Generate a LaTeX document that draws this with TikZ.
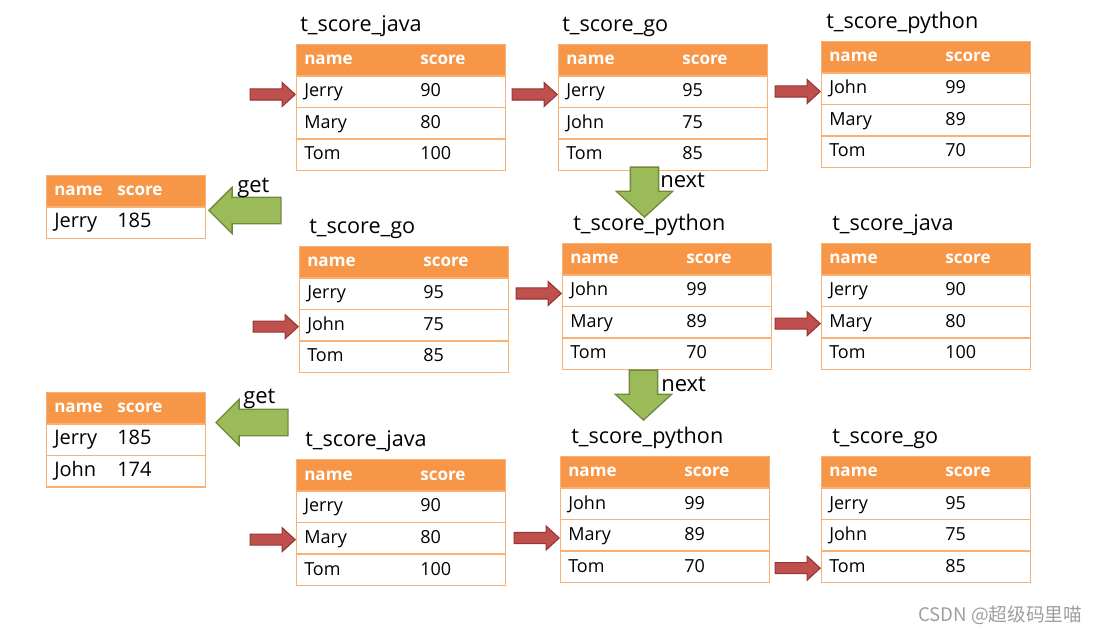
\documentclass[tikz,border=0pt]{standalone}
\usepackage{fontspec}
\setmainfont{Open Sans}
\newfontfamily\cjk{Noto Sans CJK SC}
\usetikzlibrary{positioning,shapes.arrows}

\definecolor{headcol}{HTML}{F79646}
\definecolor{linecol}{HTML}{F9B075}
\definecolor{redfill}{HTML}{C0504D}
\definecolor{reddraw}{HTML}{943634}
\definecolor{greenfill}{HTML}{9BBB59}
\definecolor{greendraw}{HTML}{71893F}

% #1 name, #2 x, #3 top, #4 width, #5 score column, #6 rows
\newcommand{\scoretab}[6]{%
  \node[tabhead, minimum width=#4*0.75pt] (#1-0) at (#2,#3) {};
  \node[headtext] at (#2+8,#3+21) {name};
  \node[headtext] at (#2+#5,#3+21) {score};
  \foreach \nm/\sc [count=\i] in {#6} {
    \node[tabrow, minimum width=#4*0.75pt] (#1-\i) at (#2,#3+31.5*\i) {};
    \node[celltext] at (#2+8,#3+31.5*\i+21.5) {\nm};
    \node[celltext] at (#2+#5,#3+31.5*\i+21.5) {\sc};
  }
}

\begin{document}
\begin{tikzpicture}[x=0.75pt,y=-0.75pt,
    tabhead/.style={rectangle, anchor=north west, inner sep=0pt, minimum height=23.6pt,
      fill=headcol, draw=linecol, line width=0.9pt},
    tabrow/.style={tabhead, fill=white},
    headtext/.style={anchor=base west, inner sep=0pt, text=white,
      font=\bfseries\fontsize{12.8}{15}\selectfont},
    celltext/.style={anchor=base west, inner sep=0pt, font=\fontsize{13.5}{16}\selectfont},
    tabtitle/.style={anchor=base west, inner sep=0pt, font=\fontsize{16.2}{19}\selectfont},
    label/.style={anchor=base west, inner sep=0pt, font=\fontsize{16.5}{19}\selectfont},
    redarr/.style={single arrow, inner sep=3.75pt, minimum height=33.75pt,
      single arrow head extend=4.9pt, single arrow tip angle=85, single arrow head indent=0pt,
      fill=redfill, draw=reddraw, line width=0.8pt},
    getarr/.style={single arrow, anchor=tip, inner sep=9.4pt, minimum height=54pt,
      single arrow head extend=7.5pt, single arrow tip angle=90, single arrow head indent=0pt,
      shape border rotate=180, fill=greenfill, draw=greendraw, line width=1pt},
    nextarr/.style={getarr, inner sep=10.1pt, minimum height=37.5pt,
      single arrow head extend=10.5pt, single arrow tip angle=95, shape border rotate=270}]
  \useasboundingbox (0,0) rectangle (1100,634);

  \scoretab{java1}{296}{44}{209}{124}{Jerry/90, Mary/80, Tom/100}
  \scoretab{go1}{558}{44}{209}{124}{Jerry/95, John/75, Tom/85}
  \scoretab{py1}{821}{41}{209}{124}{John/99, Mary/89, Tom/70}
  \scoretab{go2}{299}{246}{209}{124}{Jerry/95, John/75, Tom/85}
  \scoretab{py2}{562}{243}{209}{124}{John/99, Mary/89, Tom/70}
  \scoretab{java2}{821}{243}{209}{124}{Jerry/90, Mary/80, Tom/100}
  \scoretab{java3}{296}{459}{209}{124}{Jerry/90, Mary/80, Tom/100}
  \scoretab{py3}{560}{456}{209}{124}{John/99, Mary/89, Tom/70}
  \scoretab{go3}{821}{456}{209}{124}{Jerry/95, John/75, Tom/85}
  \begin{scope}[celltext/.append style={font=\fontsize{15}{18}\selectfont}]
    \scoretab{res1}{46}{175}{159}{71}{Jerry/185}
    \scoretab{res2}{46}{392}{159}{71}{Jerry/185, John/174}
  \end{scope}

  \node[tabtitle] (java1-t) at (300,31.5) {t\_score\_java};
  \node[tabtitle] (go1-t) at (562,31.5) {t\_score\_go};
  \node[tabtitle] (py1-t) at (826,28.5) {t\_score\_python};
  \node[tabtitle] (go2-t) at (309,233.5) {t\_score\_go};
  \node[tabtitle] (py2-t) at (573,230.5) {t\_score\_python};
  \node[tabtitle] (java2-t) at (832,230.5) {t\_score\_java};
  \node[tabtitle] (java3-t) at (305,446.5) {t\_score\_java};
  \node[tabtitle] (py3-t) at (571,443.5) {t\_score\_python};
  \node[tabtitle] (go3-t) at (832,443.5) {t\_score\_go};

  \node[redarr, left=0pt of java1-1.west, yshift=-2pt] (ra1) {};
  \node[redarr, left=0pt of go1-1.west, yshift=-2pt] (ra2) {};
  \node[redarr, left=0pt of py1-1.west, yshift=-2pt] (ra3) {};
  \node[redarr, left=0pt of go2-2.west, yshift=-1pt] (ra4) {};
  \node[redarr, left=0pt of py2-1.west, yshift=-2pt] (ra5) {};
  \node[redarr, left=0pt of java2-2.west, yshift=-1pt] (ra6) {};
  \node[redarr, left=0pt of java3-2.west, yshift=-1pt] (ra7) {};
  \node[redarr, left=0pt of py3-2.west, yshift=-2pt] (ra8) {};
  \node[redarr, left=0pt of go3-3.west, yshift=-1pt] (ra9) {};

  \node[getarr] (get1) at (208,210.5) {};
  \node[getarr] (get2) at (215,422.5) {};
  \node[nextarr] (next1) at (644.5,218) {};
  \node[nextarr] (next2) at (643.5,421) {};
  \node[label] (get1-l) at (237,193) {get};
  \node[label] (get2-l) at (243,404) {get};
  \node[label] (next1-l) at (660,188) {next};
  \node[label] (next2-l) at (661,392) {next};

  \node[anchor=base west, inner sep=0pt, text=black!38, font=\cjk\fontsize{14}{16}\selectfont]
    (mark) at (918,621) {CSDN @超级码里喵};
\end{tikzpicture}
\end{document}
